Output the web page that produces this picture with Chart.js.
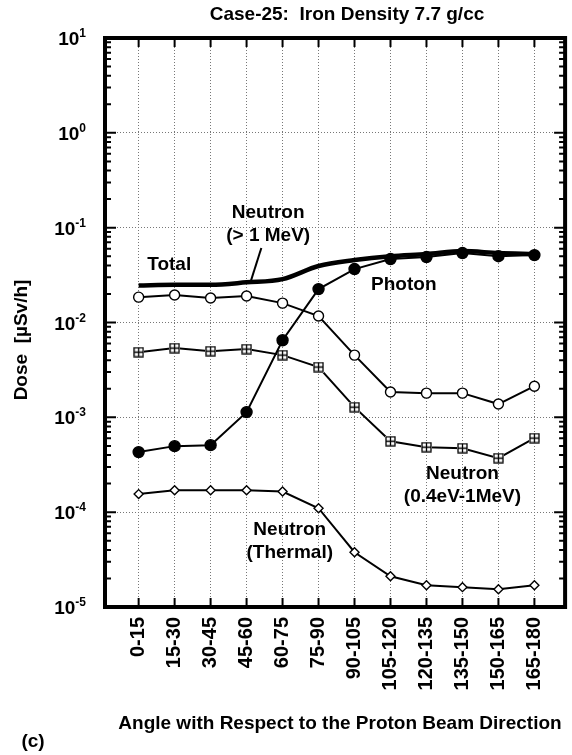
<!DOCTYPE html>
<html>
<head>
<meta charset="utf-8">
<script src="https://cdn.jsdelivr.net/npm/chart.js@4"></script>
<style>
  html, body { margin: 0; padding: 0; background: #fff; }
  #wrap { width: 572px; height: 755px; position: relative; }
</style>
</head>
<body>
<div id="wrap"><canvas id="chart"></canvas></div>
<script>
const angles = ['0-15', '15-30', '30-45', '45-60', '60-75', '75-90',
  '90-105', '105-120', '120-135', '135-150', '150-165', '165-180'];

// Dose [uSv/h]
const total = [0.0245, 0.025, 0.025, 0.0265, 0.0287, 0.0394, 0.0455, 0.050, 0.0527, 0.0567, 0.054, 0.0527];
const photon = [4.3e-4, 4.97e-4, 5.09e-4, 1.135e-3, 6.5e-3, 0.0225, 0.0366, 0.0467, 0.049, 0.054, 0.050, 0.0514];
const neutronFast = [0.0185, 0.0195, 0.0181, 0.019, 0.016, 0.0117, 0.00453, 0.00185, 0.0018, 0.0018, 0.00138, 0.00213];
const neutronEpi = [0.00487, 0.00537, 0.00499, 0.00524, 0.00453, 0.00339, 0.00128, 5.6e-4, 4.85e-4, 4.73e-4, 3.71e-4, 6.04e-4];
const neutronThermal = [1.55e-4, 1.7e-4, 1.7e-4, 1.7e-4, 1.65e-4, 1.1e-4, 3.78e-5, 2.11e-5, 1.7e-5, 1.62e-5, 1.54e-5, 1.7e-5];

const decades = [1e-5, 1e-4, 1e-3, 1e-2, 1e-1, 1, 10];
const exponents = ['-5', '-4', '-3', '-2', '-1', '0', '1'];

const FONT = "'Liberation Sans', Arial, sans-serif";
Chart.defaults.font.family = FONT;
Chart.defaults.color = '#000';

const toXY = arr => arr.map((v, i) => ({ x: i + 1, y: v }));

// square with a cross in it
function boxCross() {
  const c = document.createElement('canvas');
  c.width = 11; c.height = 11;
  const g = c.getContext('2d');
  g.fillStyle = '#fff';
  g.fillRect(0, 0, 11, 11);
  g.strokeStyle = '#000';
  g.lineWidth = 1.3;
  g.strokeRect(1, 1, 9, 9);
  g.beginPath();
  g.moveTo(5.5, 1); g.lineTo(5.5, 10);
  g.moveTo(1, 5.5); g.lineTo(10, 5.5);
  g.stroke();
  return c;
}

// text labels inside the plot, placed in data coordinates
const notes = [
  { lines: ['Total'], x: 1.85, y: 0.0403 },
  { lines: ['Neutron', '(> 1 MeV)'], x: 4.6, y: 0.1426 },
  { lines: ['Photon'], x: 8.37, y: 0.0248 },
  { lines: ['Neutron', '(0.4eV-1MeV)'], x: 10.0, y: 2.55e-4 },
  { lines: ['Neutron', '(Thermal)'], x: 5.2, y: 6.6e-5 }
];

const frame = {
  id: 'frame',
  afterDraw(chart) {
    const { ctx, chartArea: a, scales: { x, y } } = chart;
    ctx.save();
    ctx.strokeStyle = '#000';
    ctx.fillStyle = '#000';

    // ticks on all four sides
    ctx.lineWidth = 2;
    ctx.beginPath();
    angles.forEach((_, i) => {
      const px = x.getPixelForValue(i + 1);
      ctx.moveTo(px, a.top); ctx.lineTo(px, a.top + 9);
      ctx.moveTo(px, a.bottom); ctx.lineTo(px, a.bottom - 9);
    });
    decades.forEach((d, k) => {
      const py = y.getPixelForValue(d);
      ctx.moveTo(a.left, py); ctx.lineTo(a.left + 11, py);
      ctx.moveTo(a.right, py); ctx.lineTo(a.right - 11, py);
      if (k < decades.length - 1) {
        for (let m = 2; m <= 9; m++) {
          const pm = y.getPixelForValue(d * m);
          ctx.moveTo(a.left, pm); ctx.lineTo(a.left + 6, pm);
          ctx.moveTo(a.right, pm); ctx.lineTo(a.right - 6, pm);
        }
      }
    });
    ctx.stroke();

    ctx.lineWidth = 4;
    ctx.strokeRect(a.left, a.top, a.right - a.left, a.bottom - a.top);

    // y tick labels 10^n
    decades.forEach((d, k) => {
      const py = y.getPixelForValue(d);
      ctx.font = 'bold 12px ' + FONT;
      const ew = ctx.measureText(exponents[k]).width;
      ctx.textAlign = 'left';
      ctx.textBaseline = 'alphabetic';
      ctx.fillText(exponents[k], 86 - ew, py - 1);
      ctx.font = 'bold 19px ' + FONT;
      ctx.textAlign = 'right';
      ctx.fillText('10', 86 - ew, py + 7);
    });

    // titles
    ctx.font = 'bold 19px ' + FONT;
    ctx.textAlign = 'center';
    ctx.textBaseline = 'middle';
    ctx.fillText('Case-25:  Iron Density 7.7 g/cc', 347, 15);
    ctx.fillText('Angle with Respect to the Proton Beam Direction', 340, 724);
    ctx.fillText('(c)', 33, 742);
    ctx.save();
    ctx.translate(22, 340);
    ctx.rotate(-Math.PI / 2);
    ctx.fillText('Dose  [\u00b5Sv/h]', 0, 0);
    ctx.restore();

    // labels inside the plot
    ctx.font = 'bold 19px ' + FONT;
    notes.forEach(n => {
      const px = x.getPixelForValue(n.x);
      const py = y.getPixelForValue(n.y);
      n.lines.forEach((t, j) => ctx.fillText(t, px, py + j * 23));
    });

    // leader from "(> 1 MeV)" to the total curve
    ctx.lineWidth = 2;
    ctx.beginPath();
    ctx.moveTo(x.getPixelForValue(4.41), y.getPixelForValue(0.061));
    ctx.lineTo(x.getPixelForValue(4.1), y.getPixelForValue(0.026));
    ctx.stroke();
    ctx.restore();
  }
};

const marker = { borderColor: '#000', borderWidth: 2, pointBorderWidth: 1.4, pointRadius: 5, fill: false };

new Chart(document.getElementById('chart'), {
  type: 'line',
  data: {
    datasets: [
      { ...marker, label: 'Photon', data: toXY(photon), pointStyle: 'circle', pointBackgroundColor: '#000', pointRadius: 5.5 },
      { ...marker, label: 'Neutron (> 1 MeV)', data: toXY(neutronFast), pointStyle: 'circle', pointBackgroundColor: '#fff' },
      { ...marker, label: 'Neutron (0.4eV-1MeV)', data: toXY(neutronEpi), pointStyle: boxCross() },
      { ...marker, label: 'Neutron (Thermal)', data: toXY(neutronThermal), pointStyle: 'rectRot', pointBackgroundColor: '#fff', pointRadius: 4.5 },
      { label: 'Total', data: toXY(total), borderColor: '#000', borderWidth: 4.5, pointRadius: 0, cubicInterpolationMode: 'monotone', fill: false }
    ]
  },
  options: {
    responsive: true,
    maintainAspectRatio: false,
    animation: false,
    layout: { padding: { left: 105, right: 2, top: 38, bottom: 0 } },
    plugins: { legend: { display: false }, tooltip: { enabled: false } },
    scales: {
      x: {
        type: 'linear',
        min: 0.065,
        max: 12.853,
        afterBuildTicks: s => { s.ticks = angles.map((_, i) => ({ value: i + 1 })); },
        afterFit: s => { s.height = 148; },
        ticks: {
          autoSkip: false,
          minRotation: 90,
          maxRotation: 90,
          padding: 10,
          font: { size: 20, weight: 'bold' },
          callback: v => angles[v - 1]
        },
        grid: { color: '#777', lineWidth: 1, drawTicks: false },
        border: { display: false, dash: [1, 2] }
      },
      y: {
        type: 'logarithmic',
        min: 1e-5,
        max: 10,
        afterBuildTicks: s => { s.ticks = decades.map(v => ({ value: v })); },
        afterFit: s => { s.width = 0; },
        ticks: { display: false },
        grid: { color: '#777', lineWidth: 1, drawTicks: false },
        border: { display: false, dash: [1, 2] }
      }
    }
  },
  plugins: [frame]
});
</script>
</body>
</html>
